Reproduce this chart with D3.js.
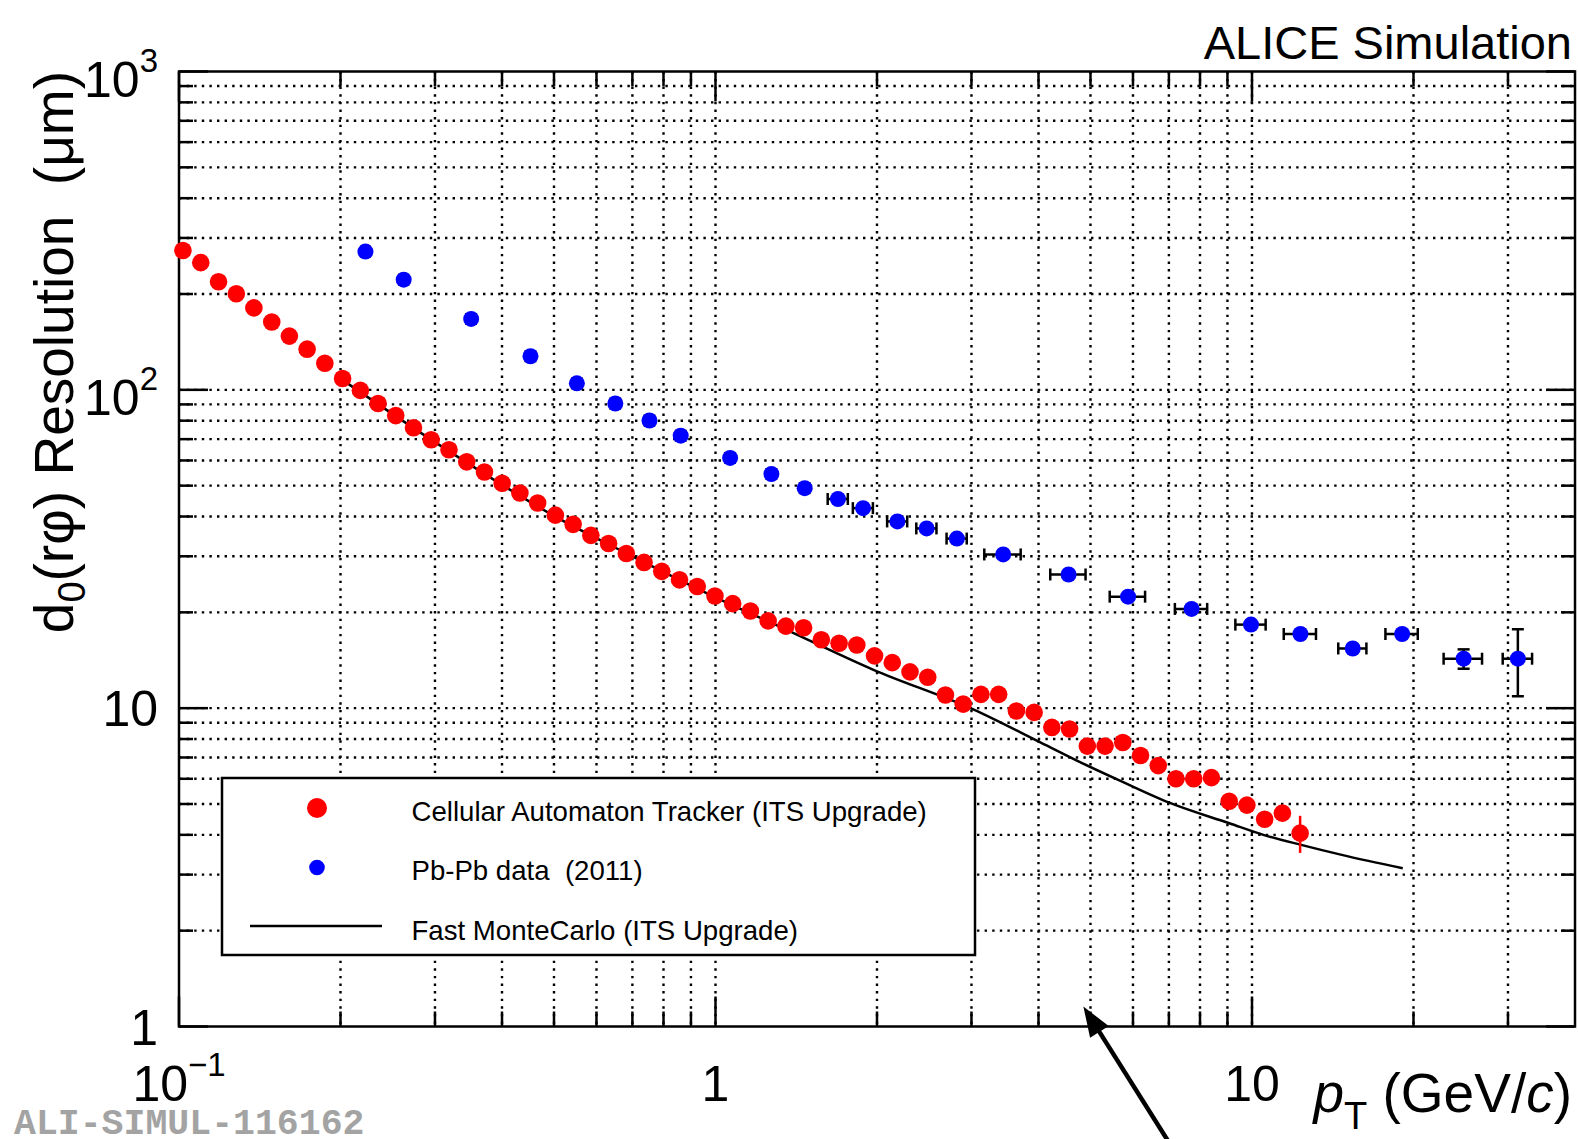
<!DOCTYPE html>
<html lang="en">
<head>
<meta charset="UTF-8">
<title>d0(r phi) resolution vs pT</title>
<script src="https://d3js.org/d3.v7.min.js"></script>
<style>
  body { margin: 0; background: #fff; }
  svg text { font-family: "Liberation Sans", Arial, Helvetica, sans-serif; fill: #000; white-space: pre; }
  .grid line { stroke: #000; stroke-width: 2.4; stroke-dasharray: 2.4,5.2; }
  .tick { stroke: #000; stroke-width: 2.5; }
</style>
</head>
<body>
<svg id="chart" width="1578" height="1139"></svg>
<script>
// --- data ---
// Cellular Automaton Tracker (ITS Upgrade)
const caPt = [0.1017,0.1098,0.1185,0.1279,0.1379,0.1489,0.1606,0.1733,0.1870,0.2018,
              0.2178,0.2350,0.2535,0.2736,0.2952,0.3186,0.3438,0.3710,0.4003,0.4319,
              0.4661,0.5030,0.5428,0.5857,0.6320,0.6820,0.7359,0.7941,0.8569,0.9246,
              0.9977,1.0766,1.1617,1.2535,1.3527,1.4596,1.5750,1.6996,1.8340,1.9790,
              2.1355,2.3043,2.4866,2.6832,2.8954,3.1243,3.3714,3.6380,3.9256,4.2361,
              4.5710,4.9325,5.3225,5.7434,6.1975,6.6876,7.2164,7.7870,8.4027,9.0672,
              9.7842,10.558,11.393,12.294];
const caRes = [274,251,218.6,200.3,180.9,163.4,147.5,134.2,121.2,108.6,
               99.6,90.6,83.0,76.0,69.7,64.8,59.4,55.2,50.9,47.4,
               44.1,40.4,37.8,34.9,32.9,30.6,28.7,26.9,25.3,24.1,
               22.5,21.3,20.2,18.8,18.1,17.9,16.4,16.0,15.8,14.6,
               13.9,13.0,12.5,11.0,10.3,11.05,11.05,9.8,9.7,8.7,
               8.6,7.6,7.6,7.8,7.1,6.6,6.0,6.0,6.05,5.1,
               4.96,4.48,4.68,4.05];
const caErr = [0,0,0,0,0,0,0,0,0,0, 0,0,0,0,0,0,0,0,0,0, 0,0,0,0,0,0,0,0,0,0,
               0,0,0,0,0,0,0,0,0,0, 0,0,0,0,0,0,0,0,0,0, 0,0,0,0,0,0,0,0,0,0,
               0,0,0,0.54];

// Pb-Pb data (2011)
const pbPt = [0.2226,0.2623,0.3504,0.4520,0.5516,0.6505,0.7532,0.8613,1.0647,1.2712,
              1.4664,1.6915,1.8841,2.1828,2.4745,2.8177,3.4375,4.551,5.875,7.716,
              9.957,12.31,15.41,19.05,24.8,31.3];
const pbRes = [271.9,221.8,167,127.5,104.8,90.6,80.1,71.8,61.1,54.4,
               49.1,45.4,42.5,38.6,36.7,34.1,30.4,26.3,22.4,20.5,
               18.3,17.1,15.4,17.1,14.3,14.3];
const pbPtErr = [0.004,0.005,0.007,0.009,0.011,0.013,0.015,0.017,0.021,0.025,
                 0.029,0.073,0.081,0.094,0.107,0.122,0.268,0.344,0.445,0.534,
                 0.646,0.85,0.93,1.32,2.04,1.97];
const pbResErr = [0.5,0.4,0.3,0.3,0.3,0.3,0.3,0.3,0.3,0.3,
                  0.3,0.3,0.3,0.3,0.3,0.3,0.3,0.3,0.3,0.3,
                  0.3,0.3,0.3,0.3,1.0,3.4];

// Fast MonteCarlo (ITS Upgrade)
const fmcPt  = [0.2,0.3,0.5,0.7,1.0,1.36,1.97,3.03,4.04,4.8,5.7,7.07,9.07,10.5,12.35,14.7,19.1];
const fmcRes = [108.5,68.5,40.2,30.0,22.3,17.6,13.2,9.9,7.8,6.75,5.9,5.02,4.35,4.0,3.72,3.46,3.14];

const xTickVals = [0.1, 1, 10];
const xTickBase = ["10", "1", "10"];
const xTickExp  = ["\u22121", "", ""];
const yTickVals = [1, 10, 100, 1000];
const yTickBase = ["1", "10", "10", "10"];
const yTickExp  = ["", "", "2", "3"];

const legendLabels = ["Cellular Automaton Tracker (ITS Upgrade)", "Pb-Pb data  (2011)", "Fast MonteCarlo (ITS Upgrade)"];

// --- layout ---
const frame = {left: 179, top: 71.5, right: 1575, bottom: 1026.5};
const svg = d3.select("#chart");

const x = d3.scaleLog().domain([0.1, 40]).range([frame.left, frame.right]);
const y = d3.scaleLog().domain([1, 1000]).range([frame.bottom, frame.top]);

svg.append("rect").attr("width", 1578).attr("height", 1139).attr("fill", "#fff");

const isMajor = v => Math.abs(Math.log10(v) - Math.round(Math.log10(v))) < 1e-6;
const xTicks = x.ticks().filter(v => v > 0.1 + 1e-9 && v < 40 - 1e-9);
const yTicks = y.ticks().filter(v => v > 1 + 1e-9 && v < 1000 - 1e-9);

// grid
const grid = svg.append("g").attr("class", "grid");
grid.selectAll(".gx").data(xTicks).join("line")
  .attr("x1", d => x(d)).attr("x2", d => x(d))
  .attr("y1", frame.top).attr("y2", frame.bottom);
grid.selectAll(".gy").data(yTicks).join("line")
  .attr("x1", frame.left).attr("x2", frame.right)
  .attr("y1", d => y(d)).attr("y2", d => y(d));

// ticks on all four sides
const ticks = svg.append("g");
const allX = x.ticks().filter(v => v < 40 - 1e-9);
const allY = y.ticks();
allX.forEach(v => {
  const len = isMajor(v) ? 30 : 15;
  ticks.append("line").attr("class", "tick").attr("x1", x(v)).attr("x2", x(v))
    .attr("y1", frame.bottom).attr("y2", frame.bottom - len);
  ticks.append("line").attr("class", "tick").attr("x1", x(v)).attr("x2", x(v))
    .attr("y1", frame.top).attr("y2", frame.top + len);
});
allY.forEach(v => {
  const len = isMajor(v) ? 29 : 14;
  ticks.append("line").attr("class", "tick").attr("y1", y(v)).attr("y2", y(v))
    .attr("x1", frame.left).attr("x2", frame.left + len);
  ticks.append("line").attr("class", "tick").attr("y1", y(v)).attr("y2", y(v))
    .attr("x1", frame.right).attr("x2", frame.right - len);
});

// frame
svg.append("rect")
  .attr("x", frame.left).attr("y", frame.top)
  .attr("width", frame.right - frame.left).attr("height", frame.bottom - frame.top)
  .attr("fill", "none").attr("stroke", "#000").attr("stroke-width", 2.5);

// tick labels
const labelSize = 50;
yTickVals.forEach((v, i) => {
  const t = svg.append("text")
    .attr("x", 158)
    .attr("y", y(v) + (yTickExp[i] ? 25 : 18))
    .attr("text-anchor", "end")
    .attr("font-size", labelSize);
  t.append("tspan").text(yTickBase[i]);
  if (yTickExp[i]) t.append("tspan").attr("font-size", 33).attr("dy", -25).text(yTickExp[i]);
});
xTickVals.forEach((v, i) => {
  const t = svg.append("text")
    .attr("x", x(v))
    .attr("y", 1101)
    .attr("text-anchor", "middle")
    .attr("font-size", labelSize);
  t.append("tspan").text(xTickBase[i]);
  if (xTickExp[i]) t.append("tspan").attr("font-size", 33).attr("dy", -25).text(xTickExp[i]);
});

// axis titles
const xt = svg.append("text").attr("x", 1572).attr("y", 1112)
  .attr("text-anchor", "end").attr("font-size", 55);
xt.append("tspan").attr("font-style", "italic").text("p");
xt.append("tspan").attr("font-size", 38).attr("dy", 17).text("T");
xt.append("tspan").attr("dy", -17).text(" (GeV/");
xt.append("tspan").attr("font-style", "italic").text("c");
xt.append("tspan").text(")");

const yt = svg.append("text")
  .attr("transform", "translate(73,71) rotate(-90)")
  .attr("text-anchor", "end").attr("font-size", 55);
yt.append("tspan").text("d");
yt.append("tspan").attr("font-size", 38).attr("dy", 12).text("0");
yt.append("tspan").attr("dy", -12).text("(r\u03c6) Resolution  (\u03bcm)");

svg.append("text").attr("x", 1572).attr("y", 58.5)
  .attr("text-anchor", "end").attr("font-size", 47).text("ALICE Simulation");

svg.append("text").attr("x", 14).attr("y", 1134)
  .attr("font-size", 36.5).attr("font-weight", "bold")
  .style("font-family", "'Liberation Mono', 'DejaVu Sans Mono', monospace")
  .style("fill", "#a3a3a3")
  .text("ALI-SIMUL-116162");

// Fast MC curve
const line = d3.line().x(d => x(d[0])).y(d => y(d[1])).curve(d3.curveMonotoneX);
svg.append("path")
  .datum(fmcPt.map((p, i) => [p, fmcRes[i]]))
  .attr("d", line)
  .attr("fill", "none").attr("stroke", "#000").attr("stroke-width", 2.5);

// Pb-Pb error bars
const pb = pbPt.map((p, i) => ({p, r: pbRes[i], ep: pbPtErr[i], er: pbResErr[i]}));
const eb = svg.append("g").attr("stroke", "#000").attr("stroke-width", 2.5);
pb.forEach(d => {
  const cx = x(d.p), cy = y(d.r);
  const xl = x(d.p - d.ep), xr = x(d.p + d.ep);
  eb.append("line").attr("x1", xl).attr("x2", xr).attr("y1", cy).attr("y2", cy);
  eb.append("line").attr("x1", xl).attr("x2", xl).attr("y1", cy - 6).attr("y2", cy + 6);
  eb.append("line").attr("x1", xr).attr("x2", xr).attr("y1", cy - 6).attr("y2", cy + 6);
  const yl = y(d.r - d.er), yh = y(d.r + d.er);
  eb.append("line").attr("x1", cx).attr("x2", cx).attr("y1", yl).attr("y2", yh);
  eb.append("line").attr("x1", cx - 6).attr("x2", cx + 6).attr("y1", yl).attr("y2", yl);
  eb.append("line").attr("x1", cx - 6).attr("x2", cx + 6).attr("y1", yh).attr("y2", yh);
});
svg.append("g").selectAll("circle").data(pb).join("circle")
  .attr("cx", d => x(d.p)).attr("cy", d => y(d.r)).attr("r", 8)
  .attr("fill", "#0000ff");

// CA tracker points
const ca = caPt.map((p, i) => ({p, r: caRes[i], e: caErr[i]}));
svg.append("g").selectAll("line").data(ca.filter(d => d.e > 0)).join("line")
  .attr("x1", d => x(d.p)).attr("x2", d => x(d.p))
  .attr("y1", d => y(d.r - d.e)).attr("y2", d => y(d.r + d.e))
  .attr("stroke", "#ff0000").attr("stroke-width", 2.5);
svg.append("g").selectAll("circle").data(ca).join("circle")
  .attr("cx", d => x(d.p)).attr("cy", d => y(d.r)).attr("r", 8.8)
  .attr("fill", "#ff0000");

// legend
const lg = svg.append("g");
lg.append("rect").attr("x", 222).attr("y", 778).attr("width", 753).attr("height", 177)
  .attr("fill", "#fff").attr("stroke", "#000").attr("stroke-width", 2.5);
lg.append("circle").attr("cx", 317).attr("cy", 808).attr("r", 10).attr("fill", "#ff0000");
lg.append("circle").attr("cx", 317).attr("cy", 867.5).attr("r", 7.8).attr("fill", "#0000ff");
lg.append("line").attr("x1", 250).attr("x2", 382).attr("y1", 926).attr("y2", 926)
  .attr("stroke", "#000").attr("stroke-width", 2.5);
[821, 880, 940].forEach((by, i) => {
  lg.append("text").attr("x", 411.5).attr("y", by).attr("font-size", 27.6).text(legendLabels[i]);
});

// annotation arrow pointing at the axis
const tipX = x(4.85), tipY = y(1) - 20;
const dx = 85, dy = 135, n = Math.hypot(dx, dy);
const ux = dx / n, uy = dy / n;
svg.append("line")
  .attr("x1", tipX + ux * 20).attr("y1", tipY + uy * 20)
  .attr("x2", tipX + ux * 200).attr("y2", tipY + uy * 200)
  .attr("stroke", "#000").attr("stroke-width", 4.5);
const hl = 30, hw = 11;
svg.append("path")
  .attr("d", `M${tipX},${tipY}L${tipX + ux * hl - uy * hw},${tipY + uy * hl + ux * hw}L${tipX + ux * hl + uy * hw},${tipY + uy * hl - ux * hw}Z`)
  .attr("fill", "#000");
</script>
</body>
</html>
